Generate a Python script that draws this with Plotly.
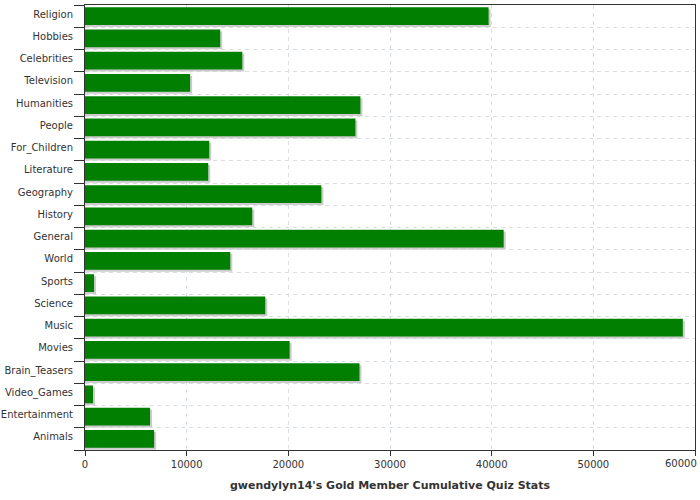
import plotly.graph_objects as go

categories = ["Religion", "Hobbies", "Celebrities", "Television", "Humanities", "People",
              "For_Children", "Literature", "Geography", "History", "General", "World",
              "Sports", "Science", "Music", "Movies", "Brain_Teasers", "Video_Games",
              "Entertainment", "Animals"]
values = [39700, 13300, 15470, 10340, 27090, 26600, 12220, 12120, 23250, 16450,
          41180, 14290, 890, 17730, 58800, 20130, 27000, 790, 6400, 6800]
x_ticks = [0, 10000, 20000, 30000, 40000, 50000, 60000]
title_text = "gwendylyn14's Gold Member Cumulative Quiz Stats"

n = len(categories)
pos = list(range(n))
px_x = 60000 / 610.0
px_y = 1.0 * n / 445.0

fig = go.Figure()
fig.add_trace(go.Bar(
    y=[p + 2 * px_y for p in pos], x=[v + 2 * px_x for v in values], orientation="h",
    width=0.8, marker=dict(color="#cccccc", line=dict(width=0)), hoverinfo="skip",
    showlegend=False))
fig.add_trace(go.Bar(
    y=pos, x=values, orientation="h", width=0.8,
    marker=dict(color="#007f00", line=dict(width=0)), showlegend=False,
    text=categories, textposition="none",
    hovertemplate="%{text}: %{x}<extra></extra>"))

# last tick label sits at the right edge of the chart
fig.add_annotation(x=1, y=0, xref="paper", yref="paper", yanchor="top",
                   xanchor="right", xshift=4, yshift=-6, showarrow=False,
                   text=str(x_ticks[-1]),
                   font=dict(family="DejaVu Sans", size=10, color="#333333"))

fig.update_layout(
    width=700, height=500, barmode="overlay",
    margin=dict(l=85, r=5, t=5, b=50, autoexpand=False),
    paper_bgcolor="white", plot_bgcolor="white",
    font=dict(family="DejaVu Sans", size=10, color="#333333"),
    xaxis=dict(range=[0, 60000], tickvals=x_ticks[:-1], automargin=False,
               ticktext=[str(t) for t in x_ticks[:-1]],
               ticks="outside", ticklen=5, tickcolor="#333333",
               showline=True, linecolor="#333333", linewidth=1, mirror=True,
               showgrid=True, gridcolor="#d8dee2", griddash="4px,4px", gridwidth=1,
               zeroline=False,
               minor=dict(tickvals=[x_ticks[-1]], ticks="outside", ticklen=5,
                          tickcolor="#333333", showgrid=False),
               title=dict(text="<b>" + title_text + "</b>",
                          font=dict(family="DejaVu Sans", size=11, color="#333333"),
                          standoff=12)),
    yaxis=dict(range=[n - 0.5, -0.5], tickvals=pos, ticktext=categories,
               automargin=False,
               ticks="", showgrid=False, zeroline=False,
               showline=True, linecolor="#333333", linewidth=1, mirror=True,
               ticklabelstandoff=9, ticklabelshift=2,
               minor=dict(tickvals=[p + 0.5 for p in range(-1, n)], ticks="outside",
                          ticklen=10, tickcolor="#333333", showgrid=True,
                          gridcolor="#d8dee2", griddash="4px,4px", gridwidth=1)),
)
fig.write_html("out.html")
